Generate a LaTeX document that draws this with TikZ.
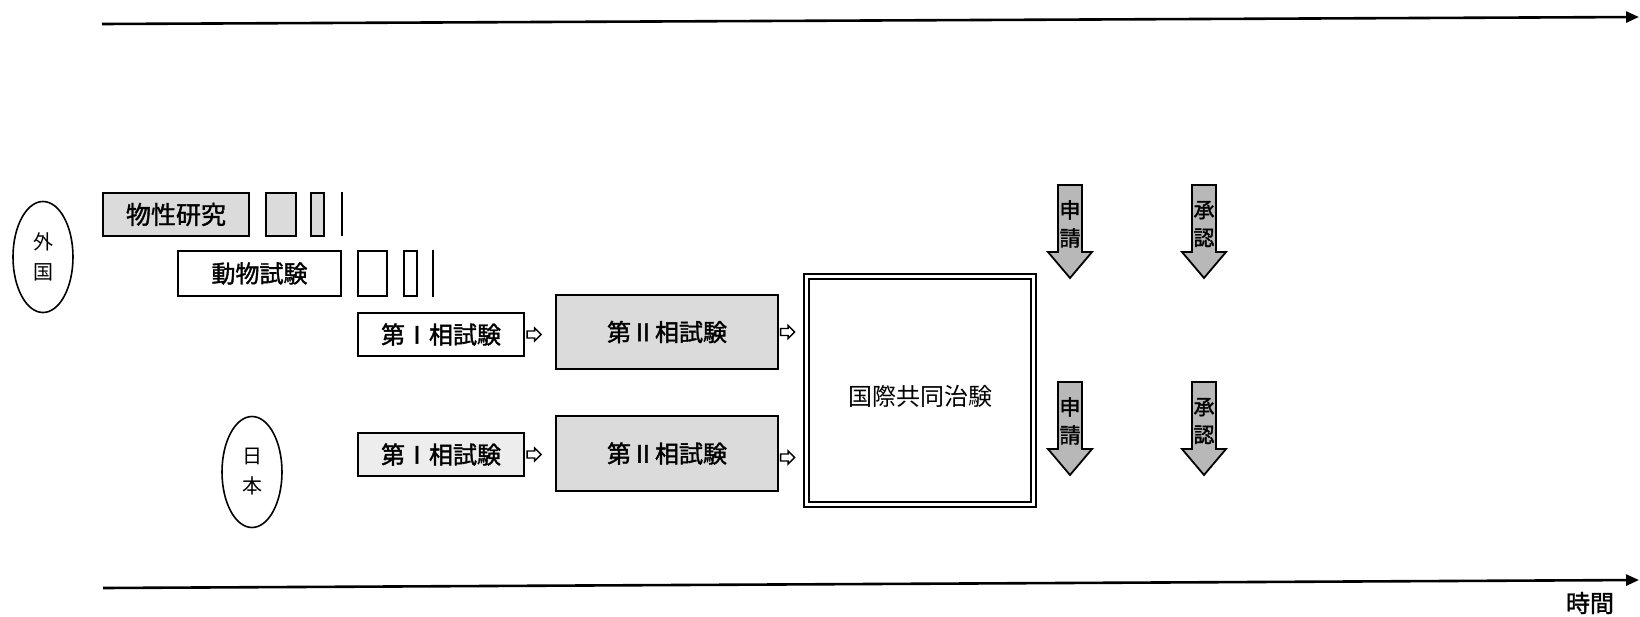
\documentclass[tikz,border=0pt]{standalone}
\usepackage{fontspec}
\newfontfamily\jp[AutoFakeBold=1.5]{Noto Sans CJK JP}
\usetikzlibrary{arrows.meta,shapes.geometric,shapes.arrows}
\newcommand\dnarrow[4]{%
  \filldraw[darr] (#1-12,#2) -- (#1+12,#2) -- (#1+12,#2+67) -- (#1+22,#2+67) -- (#1,#2+93) -- (#1-22,#2+67) -- (#1-12,#2+67) -- cycle;
  \node[vtext] (#3) at (#1,#2+39) {#4};}
\begin{document}
\begin{tikzpicture}[x=1pt,y=-1pt,
  every node/.style={font=\jp\fontsize{24}{26}\selectfont},
  stage/.style={draw, line width=1.8pt, inner sep=0pt},
  bold/.style={font=\jp\bfseries\fontsize{24}{26}\selectfont},
  big/.style={font=\jp\bfseries\fontsize{25}{27}\selectfont},
  shade/.style={fill=black!14},
  lightshade/.style={fill=black!7},
  region/.style={draw, ellipse, line width=1.6pt, inner sep=0pt, minimum width=60, minimum height=111, align=center, font=\jp\fontsize{20}{30}\selectfont},
  axis/.style={line width=2.6pt, -{Triangle[length=13pt,width=11pt]}},
  hollow/.style={single arrow, draw, line width=1.4pt, fill=white, minimum height=14pt, minimum width=13pt, single arrow head extend=2.8pt, inner sep=2.6pt, anchor=west},
  darr/.style={line width=1.8pt, fill=black!28, draw=black},
  vtext/.style={align=center, font=\jp\bfseries\fontsize{21}{28}\selectfont},
  tick/.style={line width=1.6pt}
]
\useasboundingbox (0,0) rectangle (1640,616);

% time axes
\coordinate (t0) at (102,24); \coordinate (t1) at (1639,17);
\draw[axis] (t0) -- (t1);
\coordinate (b0) at (103,588); \coordinate (b1) at (1639,580);
\draw[axis] (b0) -- (b1);
\node[bold] (jikan) at (1590,603) {時間};

% regions
\node[region] (gaikoku) at (43,257) {外\\国};
\node[region] (nihon) at (252,472) {日\\本};

% row 1: physical property study
\node[stage, shade, big, minimum width=146, minimum height=43] (bussei) at (176,214.5) {物性研究};
\node[stage, shade, minimum width=30, minimum height=43] (bs1) at (281,214.5) {};
\node[stage, shade, minimum width=13, minimum height=43] (bs2) at (317.5,214.5) {};
\coordinate (bl0) at (342,192); \coordinate (bl1) at (342,236);
\draw[tick] (bl0) -- (bl1);

% row 2: animal study
\node[stage, bold, minimum width=163, minimum height=45] (doubutsu) at (259.5,273.5) {動物試験};
\node[stage, minimum width=29, minimum height=45] (ds1) at (372.5,273.5) {};
\node[stage, minimum width=13, minimum height=45] (ds2) at (410.5,273.5) {};
\coordinate (dl0) at (433,250); \coordinate (dl1) at (433,297);
\draw[tick] (dl0) -- (dl1);

% foreign phase I / II
\node[stage, bold, minimum width=166, minimum height=43] (p1a) at (441,334.5) {第Ⅰ相試験};
\node[stage, shade, bold, minimum width=222, minimum height=74] (p2a) at (667,332) {第Ⅱ相試験};
% japan phase I / II
\node[stage, lightshade, bold, minimum width=166, minimum height=43] (p1b) at (441,454.5) {第Ⅰ相試験};
\node[stage, shade, bold, minimum width=222, minimum height=75] (p2b) at (667,453.5) {第Ⅱ相試験};

% global trial
\node[draw, double, double distance=2.6pt, line width=2.2pt, minimum width=227, minimum height=228, inner sep=0pt] (kokusai) at (920,390.5) {};
\node (kokusaitext) at (920,396) {国際共同治験};

% small hollow arrows
\node[hollow] (a1) at ([xshift=1.5pt]p1a.east) {};
\node[hollow] (a2) at ([xshift=1pt]p2a.east) {};
\node[hollow] (a3) at ([xshift=1.5pt]p1b.east) {};
\node[hollow, yshift=-4pt] (a4) at ([xshift=1pt]p2b.east) {};

% application / approval arrows
\dnarrow{1070}{185}{shinsei1}{申\\請}
\dnarrow{1204}{185}{shounin1}{承\\認}
\dnarrow{1070}{382}{shinsei2}{申\\請}
\dnarrow{1204}{382}{shounin2}{承\\認}
\end{tikzpicture}
\end{document}
